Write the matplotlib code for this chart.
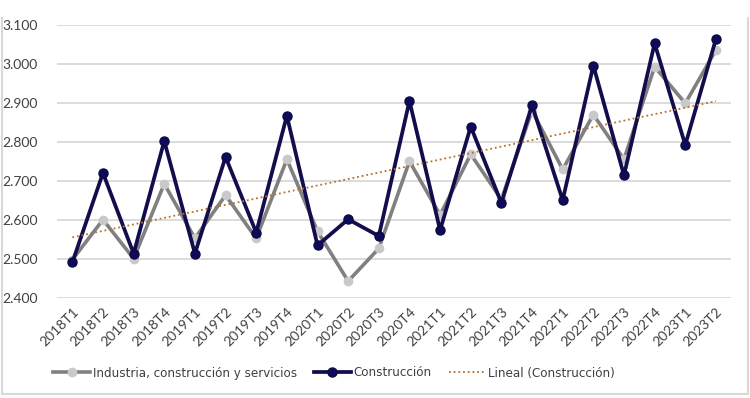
import numpy as np
import matplotlib
matplotlib.use("Agg")
import matplotlib.pyplot as plt
from matplotlib import font_manager
from matplotlib.lines import Line2D

# trimestres
quarters = ["2018T1", "2018T2", "2018T3", "2018T4",
            "2019T1", "2019T2", "2019T3", "2019T4",
            "2020T1", "2020T2", "2020T3", "2020T4",
            "2021T1", "2021T2", "2021T3", "2021T4",
            "2022T1", "2022T2", "2022T3", "2022T4",
            "2023T1", "2023T2"]

# valores
industria = [2.497, 2.600, 2.500, 2.692, 2.552, 2.663, 2.552, 2.755,
             2.570, 2.442, 2.526, 2.750, 2.612, 2.768, 2.652, 2.880,
             2.729, 2.870, 2.755, 2.993, 2.899, 3.036]
construccion = [2.490, 2.720, 2.513, 2.802, 2.513, 2.761, 2.567, 2.867,
                2.534, 2.601, 2.558, 2.905, 2.573, 2.839, 2.643, 2.894,
                2.650, 2.996, 2.714, 3.053, 2.792, 3.064]

yticks = [2.4, 2.5, 2.6, 2.7, 2.8, 2.9, 3.0, 3.1]
ytick_labels = ["2.400", "2.500", "2.600", "2.700", "2.800", "2.900", "3.000", "3.100"]

# fuente estrecha si existe en el sistema
narrow = None
for f in font_manager.fontManager.ttflist:
    fn = f.fname.lower()
    if ("condensed" in fn or "narrow" in fn) and "bold" not in fn and "oblique" not in fn \
            and "italic" not in fn and "mono" not in fn and "serif" not in fn.replace("sans", ""):
        narrow = font_manager.FontProperties(fname=f.fname)
        break

plt.rcParams['font.family'] = ['Lato', 'DejaVu Sans']

fig = plt.figure(figsize=(7.5, 3.98), dpi=100)
ax = fig.add_axes([0.076, 0.2525, 0.899, 0.6845])

x = np.arange(len(quarters))
ax.plot(x, industria, color="#808080", lw=2.6, marker="o", ms=6,
        mfc="#c9c9c9", mec="#c9c9c9", label="Industria, construcción y servicios", zorder=3)
ax.plot(x, construccion, color="#120d4d", lw=2.7, marker="o", ms=6.5,
        mfc="#0e0a5e", mec="#0e0a3e", label="Construcción", zorder=4)

# linea de tendencia
coef = np.polyfit(x, construccion, 1)
ax.plot(x, np.polyval(coef, x), color="#b8702a", lw=1.3, ls=(0, (1, 1.6)),
        label="Lineal (Construcción)", zorder=5)

ax.set_xlim(-0.5, len(quarters) - 0.5)
ax.set_ylim(2.4, 3.1)
ax.set_yticks(yticks)
ax.set_yticklabels(ytick_labels, fontsize=10, color="#404040")
ax.set_xticks(x)
ax.set_xticklabels(quarters, rotation=45, ha="right", rotation_mode="anchor",
                   fontsize=10, color="#404040")
ax.tick_params(length=0, pad=6)
ax.tick_params(axis="y", pad=14)
ax.grid(axis="y", color="#d9d9d9", lw=1.3)
ax.set_axisbelow(True)
for s in ax.spines.values():
    s.set_visible(False)

if narrow is not None:
    narrow.set_size(9.5)
    leg_kw = dict(prop=narrow)
else:
    leg_kw = dict(fontsize=9.5)
leg = ax.legend(loc="center left", bbox_to_anchor=(0.062, 1 - 373 / 398),
                bbox_transform=fig.transFigure, ncol=3, frameon=False, handlelength=2.8,
                columnspacing=1.3, handletextpad=0.2, borderpad=0, **leg_kw)
for t in leg.get_texts():
    t.set_color("#404040")

# marco del grafico
fc = "#d9d9d9"
fig.add_artist(Line2D([0.003, 0.003], [0.01, 0.955], color=fc, lw=1.5))
fig.add_artist(Line2D([0.997, 0.997], [0.01, 0.955], color=fc, lw=1.5))
fig.add_artist(Line2D([0.003, 0.997], [0.01, 0.01], color=fc, lw=1.5))

fig.savefig("out.png", dpi=100)
